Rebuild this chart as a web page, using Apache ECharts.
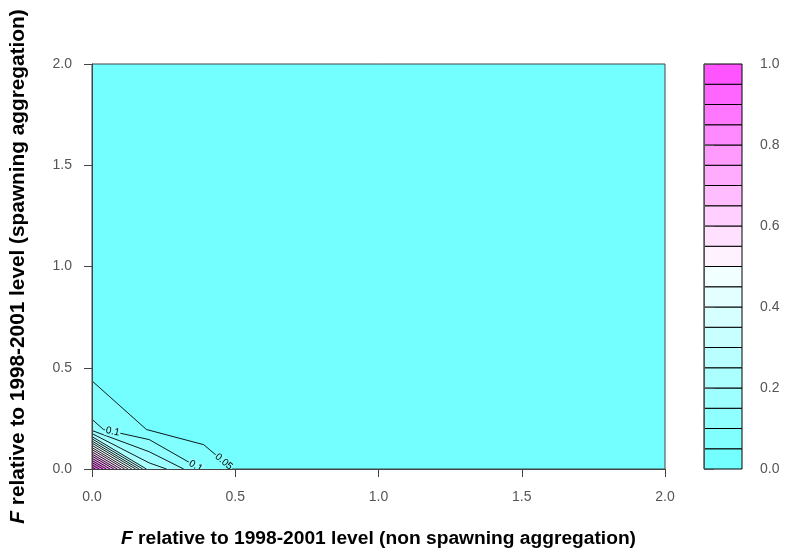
<!DOCTYPE html>
<html>
<head>
<meta charset="utf-8">
<script src="https://cdn.jsdelivr.net/npm/echarts@6/dist/echarts.min.js"></script>
<style>
  html, body { margin: 0; padding: 0; background: #ffffff; }
  #chart { width: 787px; height: 556px; }
</style>
</head>
<body>
<div id="chart"></div>
<script>
// Colour bands of the filled contour (0 to 1 in steps of 0.05)
const bandBreaks = [0.00, 0.05, 0.10, 0.15, 0.20, 0.25, 0.30, 0.35, 0.40, 0.45, 0.50,
                    0.55, 0.60, 0.65, 0.70, 0.75, 0.80, 0.85, 0.90, 0.95, 1.00];
const bandColors = ['#73FFFF', '#81FFFF', '#8FFFFF', '#9DFFFF', '#ABFFFF',
                    '#BAFFFF', '#C8FFFF', '#D6FFFF', '#E4FFFF', '#F2FFFF',
                    '#FFF2FF', '#FFE1FF', '#FFCFFF', '#FFBDFF', '#FFACFF',
                    '#FF9AFF', '#FF89FF', '#FF77FF', '#FF66FF', '#FF54FF'];

// Contour levels and their isolines (x = non spawning F, y = spawning F)
const contourLevels = [0.05, 0.10, 0.15, 0.20, 0.25, 0.30, 0.35, 0.40, 0.45, 0.50,
                       0.55, 0.60, 0.65, 0.70, 0.75, 0.80, 0.85, 0.90, 0.95];
const contourPaths = [
  [[0, 0.435], [0.19, 0.195], [0.39, 0.12], [0.49, 0]],
  [[0, 0.245], [0.04, 0.195], [0.20, 0.145], [0.38, 0]],
  [[0, 0.190], [0.20, 0.085], [0.32, 0]],
  [[0, 0.175], [0.20, 0.030], [0.26, 0]],
  [[0, 0.160], [0.190, 0]],
  [[0, 0.149], [0.177, 0]],
  [[0, 0.138], [0.164, 0]],
  [[0, 0.128], [0.152, 0]],
  [[0, 0.117], [0.139, 0]],
  [[0, 0.106], [0.126, 0]],
  [[0, 0.096], [0.114, 0]],
  [[0, 0.085], [0.101, 0]],
  [[0, 0.074], [0.088, 0]],
  [[0, 0.064], [0.076, 0]],
  [[0, 0.053], [0.063, 0]],
  [[0, 0.042], [0.050, 0]],
  [[0, 0.032], [0.038, 0]],
  [[0, 0.021], [0.025, 0]],
  [[0, 0.010], [0.012, 0]]
];
// Contour labels: which isoline, which segment, and where along it
const contourLabels = [
  { line: 1, seg: 1, t: 0.20, text: '0.1' },
  { line: 1, seg: 2, t: 0.90, text: '0.1' },
  { line: 0, seg: 2, t: 0.70, text: '0.05' }
];

const FONT = '"Liberation Sans", Arial, sans-serif';
const chart = echarts.init(document.getElementById('chart'), null, { renderer: 'canvas' });

function fillRegion(params, api) {
  const i = params.dataIndex;
  const pts = [[0, 0]].concat(contourPaths[i]).map(p => api.coord(p));
  return { type: 'polygon', shape: { points: pts }, style: { fill: bandColors[i + 1], stroke: null } };
}

function isoline(params, api) {
  const i = params.dataIndex;
  const pts = contourPaths[i].map(p => api.coord(p));
  return { type: 'polyline', shape: { points: pts }, style: { stroke: '#000', lineWidth: 0.9, fill: null } };
}

function isolineLabel(params, api) {
  const lab = contourLabels[params.dataIndex];
  const path = contourPaths[lab.line];
  const a = api.coord(path[lab.seg]);
  const b = api.coord(path[lab.seg + 1]);
  const x = a[0] + (b[0] - a[0]) * lab.t;
  const y = a[1] + (b[1] - a[1]) * lab.t;
  const ang = Math.atan2(b[1] - a[1], b[0] - a[0]);
  return {
    type: 'text', x: x, y: y, rotation: -ang,
    style: {
      text: lab.text, fill: '#000', font: '10px ' + FONT,
      align: 'center', verticalAlign: 'middle',
      backgroundColor: bandColors[lab.line + 1], padding: [0, 1]
    }
  };
}

function colorBand(params, api) {
  const k = params.dataIndex;
  const p0 = api.coord([0, bandBreaks[k + 1]]);
  const p1 = api.coord([1, bandBreaks[k]]);
  return {
    type: 'rect',
    shape: { x: p0[0], y: p0[1], width: p1[0] - p0[0], height: p1[1] - p0[1] },
    style: { fill: bandColors[k], stroke: '#000', lineWidth: 1 }
  };
}

const tickFmt = v => v.toFixed(1);
const tickLabel = { color: '#555', fontSize: 14, fontFamily: FONT, formatter: tickFmt };

chart.setOption({
  animation: false,
  backgroundColor: '#ffffff',
  grid: [
    { left: 92, top: 64, width: 573, height: 405, show: true,
      backgroundColor: bandColors[0], borderColor: '#444', borderWidth: 1 },
    { left: 704, top: 64, width: 38, height: 405 }
  ],
  xAxis: [
    {
      type: 'value', gridIndex: 0, min: 0, max: 2, interval: 0.5, z: 5,
      name: '{i|F} relative to 1998-2001 level (non spawning aggregation)',
      nameLocation: 'middle', nameGap: 60,
      nameTextStyle: {
        color: '#000', fontSize: 19.2, fontWeight: 'bold', fontFamily: FONT,
        rich: { i: { fontStyle: 'italic', fontWeight: 'bold', fontSize: 19.2, fontFamily: FONT, color: '#000' } }
      },
      axisLine: { show: true, lineStyle: { color: '#444', width: 1 } },
      axisTick: { show: true, inside: false, length: 8, lineStyle: { color: '#444' } },
      axisLabel: Object.assign({ margin: 21 }, tickLabel),
      splitLine: { show: false }
    },
    { type: 'value', gridIndex: 1, min: 0, max: 1, show: false }
  ],
  yAxis: [
    {
      type: 'value', gridIndex: 0, min: 0, max: 2, interval: 0.5, z: 5,
      name: '{i|F} relative to 1998-2001 level (spawning aggregation)',
      nameLocation: 'middle', nameGap: 63,
      nameTextStyle: {
        color: '#000', fontSize: 20.8, fontWeight: 'bold', fontFamily: FONT,
        rich: { i: { fontStyle: 'italic', fontWeight: 'bold', fontSize: 20.8, fontFamily: FONT, color: '#000' } }
      },
      axisLine: { show: true, lineStyle: { color: '#444', width: 1 } },
      axisTick: { show: true, inside: false, length: 8, lineStyle: { color: '#444' } },
      axisLabel: Object.assign({ margin: 20 }, tickLabel),
      splitLine: { show: false }
    },
    {
      type: 'value', gridIndex: 1, min: 0, max: 1, interval: 0.2, position: 'right', z: 5,
      axisLine: { show: true, lineStyle: { color: '#555', width: 1 } },
      axisTick: { show: true, inside: false, length: 10, lineStyle: { color: '#555' } },
      axisLabel: Object.assign({ margin: 18 }, tickLabel),
      splitLine: { show: false }
    }
  ],
  series: [
    {
      type: 'custom', name: 'fill', xAxisIndex: 0, yAxisIndex: 0, z: 2, clip: true,
      renderItem: fillRegion, data: contourLevels.map((v, i) => [i, v])
    },
    {
      type: 'custom', name: 'isolines', xAxisIndex: 0, yAxisIndex: 0, z: 3, clip: true,
      renderItem: isoline, data: contourLevels.map((v, i) => [i, v])
    },
    {
      type: 'custom', name: 'labels', xAxisIndex: 0, yAxisIndex: 0, z: 4, clip: true,
      renderItem: isolineLabel, data: contourLabels.map((l, i) => [i, contourLevels[l.line]])
    },
    {
      type: 'custom', name: 'key', xAxisIndex: 1, yAxisIndex: 1, z: 2,
      renderItem: colorBand, data: bandColors.map((c, k) => [k, bandBreaks[k]])
    }
  ]
});
</script>
</body>
</html>
